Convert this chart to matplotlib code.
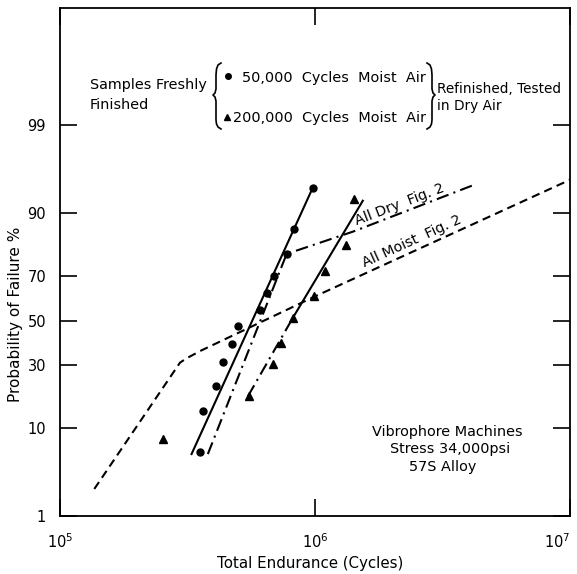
import numpy as np
import matplotlib
matplotlib.use("Agg")
import matplotlib.pyplot as plt
import matplotlib.transforms as mtransforms
from matplotlib.lines import Line2D
from matplotlib.ticker import NullLocator
from statistics import NormalDist

# freshly finished samples, 50,000 cycles in moist air (circles)
cyc_50k = [3.54e5, 3.65e5, 4.08e5, 4.37e5, 4.71e5, 4.98e5, 6.10e5, 6.50e5, 6.92e5, 7.74e5, 8.28e5, 9.80e5]
pct_50k = [5.9, 14.1, 21.8, 31.0, 39.2, 47.2, 54.9, 62.9, 70.3, 78.6, 86.2, 94.3]

# 200,000 cycles in moist air (triangles)
cyc_200k = [2.53e5, 5.51e5, 6.82e5, 7.33e5, 8.22e5, 9.93e5, 1.09e6, 1.32e6, 1.42e6]
pct_200k = [7.9, 18.5, 30.1, 39.6, 51.3, 61.3, 72.1, 81.6, 92.6]

# fitted lines
fit_50k_cyc = [3.28e5, 9.80e5]
fit_50k_pct = [5.6, 94.3]
fit_200k_cyc = [8.20e5, 1.54e6]
fit_200k_pct = [51.4, 92.3]
low_200k_cyc = [5.46e5, 8.20e5]
low_200k_pct = [18.4, 51.4]

# "All Dry Fig. 2" and "All Moist Fig. 2" curves
dry_cyc = [3.80e5, 7.74e5, 1.41e6, 4.30e6]
dry_pct = [5.6, 78.6, 85.5, 94.8]
moist_cyc = [1.363e5, 2.955e5, 3.12e5, 3.54e5, 1.0e6, 1.0e7]
moist_pct = [2.25, 30.8, 32.5, 35.8, 61.3, 95.3]

y_ticks = [1, 10, 30, 50, 70, 90, 99]
x_ticks = [1e5, 1e6, 1e7]
x_labels = [r"$10^5$", r"$10^6$", r"$10^7$"]

_nd = NormalDist()
_ppf = np.vectorize(_nd.inv_cdf, otypes=[float])
_cdf = np.vectorize(_nd.cdf, otypes=[float])


def prob_fwd(p):
    p = np.clip(np.asarray(p, dtype=float) / 100.0, 1e-9, 1 - 1e-9)
    return _ppf(p)


def prob_inv(z):
    return _cdf(np.asarray(z, dtype=float)) * 100.0


W, H = 577, 574
plt.rcParams['font.family'] = ['DejaVu Sans']
plt.rcParams['font.size'] = 10

fig = plt.figure(figsize=(W / 100, H / 100), dpi=100)
ax = fig.add_axes([60 / W, 1 - 516 / H, 510 / W, 508 / H])
ax.set_xscale('log')
ax.set_yscale('function', functions=(prob_fwd, prob_inv))
ax.set_xlim(1e5, 1e7)
ax.set_ylim(1, 99.99)

lw = 1.5
dashdot = (0, (6, 2.5, 1, 2.5))
dashed = (0, (4, 2.5))

ax.plot(fit_50k_cyc, fit_50k_pct, color='black', lw=lw)
ax.plot(dry_cyc, dry_pct, color='black', lw=lw, linestyle=dashdot)
ax.plot(fit_200k_cyc, fit_200k_pct, color='black', lw=lw)
ax.plot(low_200k_cyc, low_200k_pct, color='black', lw=lw, linestyle=dashdot)
ax.plot(moist_cyc, moist_pct, color='black', lw=lw, linestyle=dashed)

ax.plot(cyc_50k, pct_50k, 'o', color='black', ms=5)
ax.plot(cyc_200k, pct_200k, '^', color='black', ms=6)

ax.annotate("All Dry  Fig. 2", (1.476e6, 86.0), xytext=(0, 1.5), textcoords='offset points',
            rotation=21, rotation_mode='anchor', ha='left', va='bottom', fontsize=10.3)
ax.annotate("All Moist  Fig. 2", (1.585e6, 71.4), xytext=(0, 2), textcoords='offset points',
            rotation=24.6, rotation_mode='anchor', ha='left', va='bottom', fontsize=10.3)

ax.set_xticks(x_ticks)
ax.set_xticklabels(x_labels)
ax.set_yticks(y_ticks)
ax.set_yticklabels([str(v) for v in y_ticks])
ax.xaxis.set_minor_locator(NullLocator())
ax.yaxis.set_minor_locator(NullLocator())
ax.tick_params(axis='both', direction='in', length=12, width=1.2,
               top=True, right=True, labelsize=10.5)
ax.tick_params(axis='y', pad=10)
ax.tick_params(axis='x', pad=12)
ax.get_xticklabels()[-1].set_horizontalalignment('right')
for s in ax.spines.values():
    s.set_linewidth(1.3)

ax.set_ylabel("Probability of Failure %", fontsize=11)
ax.yaxis.set_label_coords(-0.072, 0.398)
ax.set_xlabel("Total Endurance (Cycles)", fontsize=10.8)
ax.xaxis.set_label_coords(0.49, -0.078)

# pixel coordinates (origin top-left) for the key text
T = mtransforms.Affine2D().scale(1 / W, -1 / H).translate(0, 1) + fig.transFigure

fig.text(90, 85, "Samples Freshly", transform=T, va='center', ha='left', fontsize=10.4)
fig.text(90, 105, "Finished", transform=T, va='center', ha='left', fontsize=10.4)
fig.text(241.7, 78, "50,000  Cycles  Moist  Air", transform=T, va='center', ha='left', fontsize=10.4)
fig.text(233.3, 118, "200,000  Cycles  Moist  Air", transform=T, va='center', ha='left', fontsize=10.4)
fig.text(437, 89, "Refinished, Tested", transform=T, va='center', ha='left', fontsize=9.8)
fig.text(437, 106, "in Dry Air", transform=T, va='center', ha='left', fontsize=9.8)
fig.add_artist(Line2D([227.7], [76], marker='o', ms=4, color='black', transform=T))
fig.add_artist(Line2D([226.7], [117], marker='^', ms=5, color='black', transform=T))

lb_x = [221, 218, 216.5, 216, 216, 215, 213, 215, 216, 216, 216.5, 218, 221]
b_y = [63, 65, 69, 75, 89, 93, 95, 97, 101, 120, 124, 127, 129]
rb_x = [648 - v for v in lb_x]
fig.add_artist(Line2D(lb_x, b_y, color='black', lw=1.2, transform=T))
fig.add_artist(Line2D(rb_x, b_y, color='black', lw=1.2, transform=T))

fig.text(447, 432, "Vibrophore Machines", transform=T, va='center', ha='center', fontsize=10.4)
fig.text(450, 449, "Stress 34,000psi", transform=T, va='center', ha='center', fontsize=10.4)
fig.text(443, 467, "57S Alloy", transform=T, va='center', ha='center', fontsize=10.4)

fig.savefig('out.png', dpi=100)
